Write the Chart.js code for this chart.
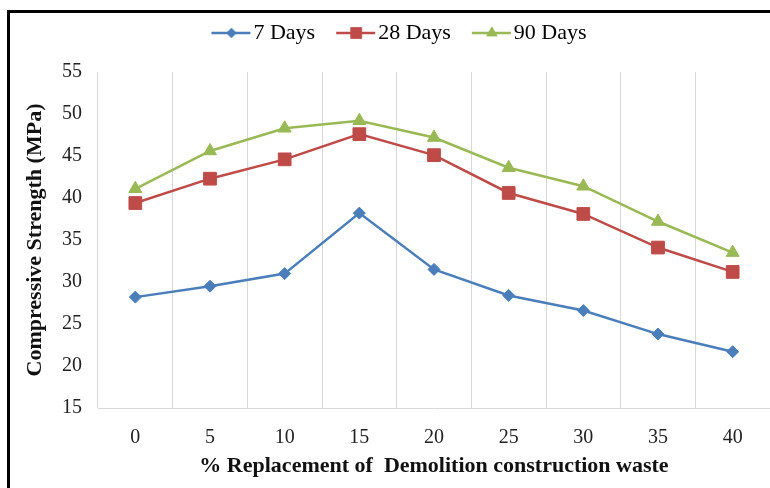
<!DOCTYPE html>
<html>
<head>
<meta charset="utf-8">
<script src="https://cdn.jsdelivr.net/npm/chart.js@4.4.0/dist/chart.umd.min.js"></script>
<style>
  html, body { margin: 0; padding: 0; width: 770px; height: 488px; overflow: hidden; background: #fff; }
  #frame { position: absolute; left: 7px; top: 10px; width: 800px; height: 520px;
           border-left: 3px solid #000; border-top: 3px solid #000; }
  #myChart { position: absolute; left: 0; top: 0; }
</style>
</head>
<body>
<div id="frame"></div>
<canvas id="myChart" width="780" height="488"></canvas>
<script>
var replacement = ["0", "5", "10", "15", "20", "25", "30", "35", "40"];
var days7  = [28.2, 29.5, 31.0, 38.2, 31.5, 28.4, 26.6, 23.8, 21.7];
var days28 = [39.4, 42.3, 44.6, 47.6, 45.1, 40.6, 38.1, 34.1, 31.2];
var days90 = [41.1, 45.6, 48.3, 49.2, 47.2, 43.6, 41.4, 37.2, 33.5];

var blue = "#4A7EBB", red = "#BE4B48", green = "#98B954";
var serif = "'Liberation Serif', 'Times New Roman', serif";

// little line + marker pictures for the legend (line sits on the right part of the image)
function legendIcon(color, style, radius) {
  var c = document.createElement("canvas");
  c.width = 50; c.height = 16;
  var g = c.getContext("2d");
  g.strokeStyle = color; g.lineWidth = 2.5;
  g.beginPath(); g.moveTo(9, 8); g.lineTo(48, 8); g.stroke();
  g.fillStyle = color;
  Chart.helpers.drawPoint(g, { pointStyle: style, radius: radius, rotation: 0, borderWidth: 0 }, 29, 8);
  g.fill();
  return c;
}

// extra room under the legend, and nudge it right a bit
var legendTweak = {
  id: "legendTweak",
  beforeInit: function (chart) {
    var legend = chart.legend;
    var fit = legend.fit;
    legend.fit = function () { fit.call(this); this.height += 18; };
    var draw = legend.draw;
    legend.draw = function () {
      this.ctx.save();
      this.ctx.translate(8, 0);
      draw.call(this);
      this.ctx.restore();
    };
  }
};

var ctx = document.getElementById("myChart");
var data = {
  labels: replacement,
  datasets: [
    {
      label: "7 Days",
      data: days7,
      borderColor: blue,
      backgroundColor: blue,
      pointStyle: "rectRot",
      pointRadius: 6,
      icon: legendIcon(blue, "rectRot", 5)
    },
    {
      label: "28 Days",
      data: days28,
      borderColor: red,
      backgroundColor: red,
      pointStyle: "rect",
      pointRadius: 9,
      icon: legendIcon(red, "rect", 8)
    },
    {
      label: "90 Days",
      data: days90,
      borderColor: green,
      backgroundColor: green,
      pointStyle: "triangle",
      pointRadius: 7.5,
      icon: legendIcon(green, "triangle", 6.5)
    }
  ]
};

var myChart = new Chart(ctx, {
  type: "line",
  data: data,
  plugins: [legendTweak],
  options: {
    responsive: false,
    animation: false,
    layout: { padding: { left: 10, right: 7, top: 0, bottom: 0 } },
    elements: {
      line: { borderWidth: 2.5, tension: 0 },
      point: { borderWidth: 1, hoverRadius: 7 }
    },
    plugins: {
      tooltip: { enabled: false },
      legend: {
        position: "top",
        labels: {
          usePointStyle: true,
          pointStyleWidth: 30,
          padding: 22,
          color: "#222",
          font: { family: serif, size: 22 },
          generateLabels: function (chart) {
            return chart.data.datasets.map(function (ds, i) {
              return {
                text: ds.label,
                pointStyle: ds.icon,
                fillStyle: ds.borderColor,
                strokeStyle: ds.borderColor,
                lineWidth: 0,
                hidden: false,
                datasetIndex: i
              };
            });
          }
        }
      }
    },
    scales: {
      x: {
        offset: true,
        grid: { display: true, offset: true, color: "#d9d9d9", drawTicks: false },
        border: { display: true, color: "#d9d9d9" },
        ticks: { color: "#222", padding: 18, font: { family: serif, size: 20 } },
        title: {
          display: true,
          text: "% Replacement of  Demolition construction waste",
          color: "#111",
          font: { family: serif, size: 22, weight: "bold" },
          padding: { top: 0, bottom: 8 }
        },
        afterFit: function (scale) { scale.height = 80; }
      },
      y: {
        min: 15,
        max: 55,
        ticks: { stepSize: 5, color: "#222", padding: 16, font: { family: serif, size: 20 } },
        grid: { display: false, drawTicks: false },
        border: { display: false },
        title: {
          display: true,
          text: "Compressive Strength (MPa)",
          color: "#111",
          font: { family: serif, size: 22, weight: "bold" },
          padding: { top: 12, bottom: 0 }
        },
        afterFit: function (scale) { scale.width = 88; }
      }
    }
  }
});
</script>
</body>
</html>
